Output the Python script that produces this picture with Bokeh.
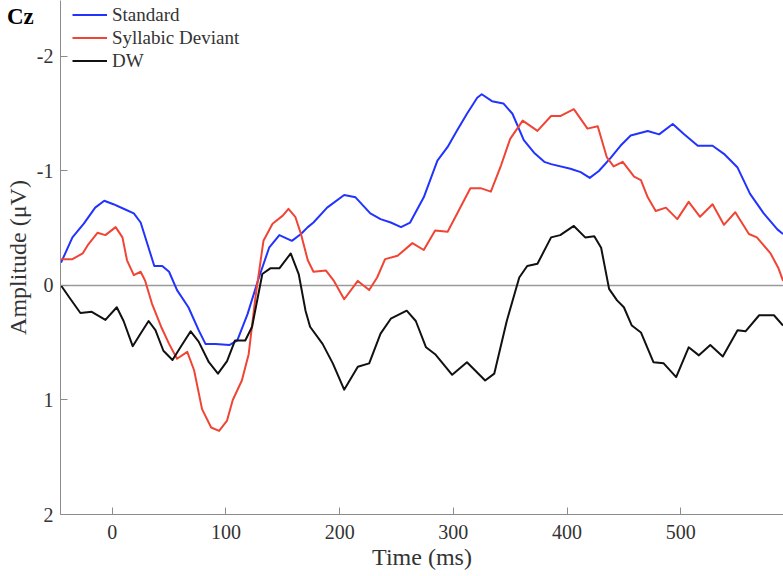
from bokeh.plotting import figure
from bokeh.models import Range1d, Span, Legend, LegendItem, FixedTicker, Div
from bokeh.layouts import column
from bokeh.embed import file_html
from bokeh.resources import INLINE

# ---- data ----
std_t = [-45, -35, -25, -15, -7, 1, 10, 19, 25, 31, 37, 44, 50, 57, 67, 76, 82, 91, 103, 110,
         119, 129, 138, 147, 158, 166, 172, 177, 189, 204, 214, 227, 236, 245, 254, 262, 274,
         286, 295, 303, 312, 321, 325, 334, 344, 352, 362, 371, 380, 386, 403, 412, 420, 428,
         438, 447, 456, 471, 481, 493, 503, 515, 528, 538, 550, 561, 573, 585, 590]
std_v = [-0.20, -0.42, -0.54, -0.68, -0.74, -0.71, -0.67, -0.63, -0.55, -0.36, -0.17, -0.17,
         -0.12, 0.04, 0.19, 0.39, 0.51, 0.51, 0.52, 0.48, 0.25, -0.07, -0.33, -0.44, -0.39,
         -0.45, -0.51, -0.55, -0.68, -0.79, -0.77, -0.63, -0.58, -0.55, -0.51, -0.55, -0.77,
         -1.09, -1.21, -1.35, -1.50, -1.64, -1.67, -1.61, -1.59, -1.50, -1.27, -1.16, -1.08,
         -1.06, -1.02, -0.99, -0.94, -1.00, -1.11, -1.22, -1.31, -1.35, -1.32, -1.41, -1.32,
         -1.22, -1.22, -1.15, -1.03, -0.80, -0.63, -0.49, -0.45]

syl_t = [-45, -35, -26, -21, -13, -6, 3, 9, 13, 19, 25, 29, 35, 43, 50, 57, 66, 72, 79, 87,
         94, 101, 106, 114, 120, 126, 133, 141, 150, 155, 161, 166, 172, 177, 188, 195, 204,
         216, 226, 233, 240, 251, 264, 274, 284, 295, 305, 315, 324, 333, 342, 350, 361, 374,
         386, 394, 406, 418, 427, 435, 441, 449, 459, 465, 471, 478, 487, 497, 507, 517, 528,
         538, 548, 560, 567, 579, 586, 590]
syl_v = [-0.23, -0.23, -0.28, -0.36, -0.46, -0.44, -0.51, -0.42, -0.22, -0.09, -0.12, -0.04,
         0.16, 0.36, 0.51, 0.64, 0.58, 0.74, 1.08, 1.24, 1.27, 1.18, 1.00, 0.83, 0.60, 0.10,
         -0.39, -0.54, -0.61, -0.67, -0.60, -0.45, -0.22, -0.12, -0.13, -0.04, 0.12, -0.04,
         0.04, -0.07, -0.23, -0.26, -0.37, -0.31, -0.48, -0.47, -0.66, -0.85, -0.85, -0.82,
         -1.05, -1.28, -1.44, -1.35, -1.48, -1.48, -1.54, -1.37, -1.39, -1.12, -1.04, -1.08,
         -0.95, -0.92, -0.77, -0.65, -0.68, -0.58, -0.73, -0.60, -0.71, -0.53, -0.64, -0.45,
         -0.42, -0.28, -0.15, -0.04]

dw_t = [-45, -38, -28, -18, -6, 4, 10, 18, 25, 32, 38, 45, 53, 60, 69, 76, 85, 93, 101, 108,
        117, 123, 132, 139, 147, 157, 164, 170, 174, 185, 194, 204, 216, 226, 236, 245, 259,
        267, 276, 284, 299, 312, 328, 336, 347, 358, 365, 374, 386, 394, 406, 416, 424, 430,
        437, 444, 450, 457, 465, 476, 485, 496, 507, 516, 526, 537, 550, 557, 569, 582, 590]
dw_v = [0.00, 0.10, 0.24, 0.23, 0.30, 0.19, 0.31, 0.53, 0.42, 0.31, 0.39, 0.57, 0.65, 0.54,
        0.40, 0.49, 0.67, 0.77, 0.66, 0.48, 0.48, 0.36, -0.10, -0.15, -0.15, -0.28, -0.10,
        0.22, 0.36, 0.51, 0.68, 0.91, 0.71, 0.68, 0.42, 0.29, 0.22, 0.31, 0.54, 0.60, 0.78,
        0.67, 0.83, 0.77, 0.31, -0.07, -0.17, -0.19, -0.42, -0.44, -0.52, -0.42, -0.43, -0.33,
        0.03, 0.13, 0.19, 0.35, 0.41, 0.67, 0.68, 0.80, 0.54, 0.61, 0.52, 0.62, 0.39, 0.40,
        0.26, 0.26, 0.35]

series_names = ["Standard", "Syllabic Deviant", "DW"]
x_ticks = [0, 100, 200, 300, 400, 500]
y_ticks = [-2, -1, 0, 1, 2]
y_tick_labels = ["-2", "-1", "0", "1", "2"]
panel_title = "Cz"

# ---- styling ----
FONT = "Liberation Serif"
TEXT = "#333333"
AXIS = "#8c8c8c"
colors = ["#2233ff", "#f04535", "#111111"]

p = figure(width=783, height=576, output_backend="svg", toolbar_location=None,
           x_range=Range1d(-45.5, 590.4), y_range=Range1d(2.0, -2.489),
           min_border_left=60, min_border_right=0, min_border_top=0, min_border_bottom=62)
p.outline_line_color = None
p.grid.visible = False
p.background_fill_color = "white"

p.xaxis.ticker = FixedTicker(ticks=x_ticks)
p.yaxis.ticker = FixedTicker(ticks=y_ticks)
p.yaxis.major_label_overrides = {t: s for t, s in zip(y_ticks, y_tick_labels)}
p.xaxis.axis_label = "Time (ms)"
p.yaxis.axis_label = "Amplitude (μV)"

for ax in (p.xaxis, p.yaxis):
    ax.axis_line_color = AXIS
    ax.axis_line_width = 1
    ax.major_tick_line_color = AXIS
    ax.major_tick_in = 7
    ax.major_tick_out = 0
    ax.minor_tick_line_color = None
    ax.major_label_text_font = FONT
    ax.major_label_text_font_size = "20px"
    ax.major_label_text_color = TEXT
    ax.axis_label_text_font = FONT
    ax.axis_label_text_font_size = "24px"
    ax.axis_label_text_font_style = "normal"
    ax.axis_label_text_color = TEXT

p.xaxis.major_label_standoff = 10
p.xaxis.axis_label_standoff = 2
p.yaxis.major_label_standoff = 7
p.yaxis.axis_label_standoff = 3

zero = Span(location=0, dimension="width", line_color="#9a9a9a", line_width=1.5, level="underlay")
p.add_layout(zero)

r1 = p.line(std_t, std_v, line_color=colors[0], line_width=2, line_join="round")
r2 = p.line(syl_t, syl_v, line_color=colors[1], line_width=2, line_join="round")
r3 = p.line(dw_t, dw_v, line_color=colors[2], line_width=2, line_join="round")

legend = Legend(items=[LegendItem(label=series_names[0], renderers=[r1]),
                       LegendItem(label=series_names[1], renderers=[r2]),
                       LegendItem(label=series_names[2], renderers=[r3])],
                location=(12, 442), orientation="vertical",
                border_line_color=None, background_fill_alpha=0,
                padding=0, margin=0, spacing=0,
                label_height=23, glyph_height=23, glyph_width=35, label_standoff=5,
                label_text_font=FONT, label_text_font_size="19px", label_text_color=TEXT)
p.add_layout(legend)

cz = Div(text=("<span style=\"font-family:'Liberation Serif';font-weight:bold;"
               "font-size:23px;line-height:26px;color:#000;\">" + panel_title + "</span>"),
         margin=0,
         styles={"position": "absolute", "left": "7px", "top": "4px", "z-index": "10",
                 "margin": "0", "padding": "0"})

layout = column(cz, p, spacing=0)

open("out.html", "w").write(file_html(layout, INLINE))
